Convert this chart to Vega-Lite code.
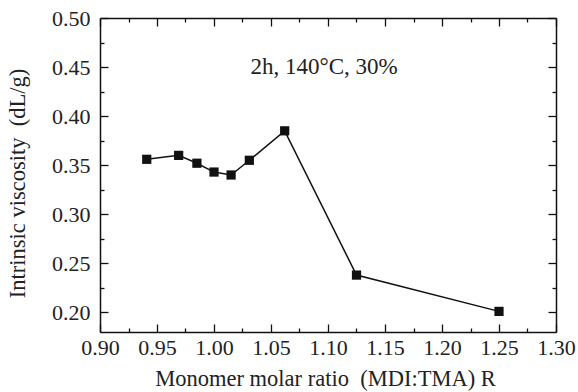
{
  "$schema": "https://vega.github.io/schema/vega-lite/v6.json",
  "width": 456,
  "height": 314,
  "autosize": "none",
  "padding": {"left": 100, "top": 18, "right": 22, "bottom": 60},
  "background": "white",
  "config": {
    "view": {"stroke": null},
    "font": "Liberation Serif",
    "axis": {
      "domainColor": "#111",
      "domainWidth": 1.5,
      "tickColor": "#111",
      "tickWidth": 1.3,
      "labelFont": "Liberation Serif",
      "labelFontSize": 22,
      "labelColor": "#222",
      "titleFont": "Liberation Serif",
      "titleFontSize": 22.5,
      "titleFontWeight": "normal",
      "titleColor": "#222",
      "grid": false,
      "labelFlush": false,
      "labelOverlap": false,
      "offset": 0
    }
  },
  "data": {
    "values": [
      {"R": 0.941, "iv": 0.356},
      {"R": 0.969, "iv": 0.360},
      {"R": 0.985, "iv": 0.352},
      {"R": 1.000, "iv": 0.343},
      {"R": 1.015, "iv": 0.340},
      {"R": 1.031, "iv": 0.355},
      {"R": 1.062, "iv": 0.385},
      {"R": 1.125, "iv": 0.238},
      {"R": 1.250, "iv": 0.201}
    ]
  },
  "layer": [
    {
      "mark": {"type": "line", "color": "#111", "strokeWidth": 1.5},
      "encoding": {
        "x": {
          "field": "R", "type": "quantitative",
          "scale": {"domain": [0.9, 1.3], "nice": false, "zero": false},
          "axis": {
            "orient": "bottom",
            "title": "Monomer molar ratio\u00a0\u00a0(MDI:TMA) R",
            "values": [0.9, 0.95, 1.0, 1.05, 1.1, 1.15, 1.2, 1.25, 1.3],
            "format": ".2f",
            "ticks": false,
            "labelPadding": 5,
            "titlePadding": 9,
            "titleX": 225,
            "offset": 0
          }
        },
        "y": {
          "field": "iv", "type": "quantitative",
          "scale": {"domain": [0.18, 0.5], "nice": false, "zero": false},
          "axis": {
            "orient": "left",
            "title": "Intrinsic viscosity\u00a0\u00a0(dL/g)",
            "values": [0.2, 0.25, 0.3, 0.35, 0.4, 0.45, 0.5],
            "format": ".2f",
            "ticks": false,
            "labelPadding": 10,
            "titlePadding": 22,
            "titleY": 165,
            "offset": 0
          }
        }
      }
    },
    {
      "mark": {"type": "point", "shape": "square", "filled": true, "color": "#111", "size": 85, "opacity": 1},
      "encoding": {
        "x": {"field": "R", "type": "quantitative", "axis": null},
        "y": {"field": "iv", "type": "quantitative", "axis": null}
      }
    },
    {
      "data": {"values": [{"R": 1.032, "iv": 0.4502, "note": "2h, 140°C, 30%"}]},
      "mark": {"type": "text", "align": "left", "baseline": "middle", "font": "Liberation Serif", "fontSize": 23, "color": "#222"},
      "encoding": {
        "x": {"field": "R", "type": "quantitative", "axis": null},
        "y": {"field": "iv", "type": "quantitative", "axis": null},
        "text": {"field": "note"}
      }
    },
    {
      "mark": {"type": "point", "opacity": 0},
      "encoding": {
        "x": {
          "field": "R", "type": "quantitative",
          "axis": {"orient": "bottom", "title": null, "labels": false, "domain": false, "tickSize": -8, "offset": 0,
                   "values": [0.9, 0.95, 1.0, 1.05, 1.1, 1.15, 1.2, 1.25, 1.3]}
        },
        "y": {
          "field": "iv", "type": "quantitative",
          "axis": {"orient": "left", "title": null, "labels": false, "domain": false, "tickSize": -8, "offset": 0,
                   "values": [0.2, 0.25, 0.3, 0.35, 0.4, 0.45, 0.5]}
        }
      }
    },
    {
      "mark": {"type": "point", "opacity": 0},
      "encoding": {
        "x": {
          "field": "R", "type": "quantitative",
          "axis": {"orient": "bottom", "title": null, "labels": false, "domain": false, "tickSize": -4, "offset": 0,
                   "values": [0.925, 0.975, 1.025, 1.075, 1.125, 1.175, 1.225, 1.275]}
        },
        "y": {
          "field": "iv", "type": "quantitative",
          "axis": {"orient": "left", "title": null, "labels": false, "domain": false, "tickSize": -4, "offset": 0,
                   "values": [0.225, 0.275, 0.325, 0.375, 0.425, 0.475]}
        }
      }
    },
    {
      "mark": {"type": "point", "opacity": 0},
      "encoding": {
        "x": {
          "field": "R", "type": "quantitative",
          "axis": {"orient": "top", "title": null, "labels": false, "tickSize": -8, "offset": 0,
                   "values": [0.9, 0.95, 1.0, 1.05, 1.1, 1.15, 1.2, 1.25, 1.3]}
        },
        "y": {
          "field": "iv", "type": "quantitative",
          "axis": {"orient": "right", "title": null, "labels": false, "tickSize": -8, "offset": 0,
                   "values": [0.2, 0.25, 0.3, 0.35, 0.4, 0.45, 0.5]}
        }
      }
    },
    {
      "mark": {"type": "point", "opacity": 0},
      "encoding": {
        "x": {
          "field": "R", "type": "quantitative",
          "axis": {"orient": "top", "title": null, "labels": false, "domain": false, "tickSize": -4, "offset": 0,
                   "values": [0.925, 0.975, 1.025, 1.075, 1.125, 1.175, 1.225, 1.275]}
        },
        "y": {
          "field": "iv", "type": "quantitative",
          "axis": {"orient": "right", "title": null, "labels": false, "domain": false, "tickSize": -4, "offset": 0,
                   "values": [0.225, 0.275, 0.325, 0.375, 0.425, 0.475]}
        }
      }
    }
  ],
  "resolve": {"axis": {"x": "independent", "y": "independent"}}
}
